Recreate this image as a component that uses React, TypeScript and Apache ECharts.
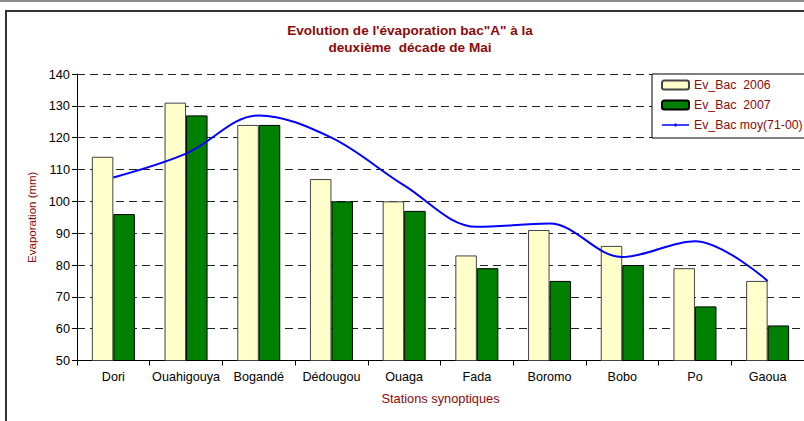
import React, { useEffect, useRef } from "react";
import * as echarts from "echarts";

const stations = ["Dori", "Ouahigouya", "Bogandé", "Dédougou", "Ouaga", "Fada", "Boromo", "Bobo", "Po", "Gaoua"];
const bac2006 = [114, 131, 124, 107, 100, 83, 91, 86, 79, 75];
const bac2007 = [96, 127, 124, 100, 97, 79, 75, 80, 67, 61];
const moy7100 = [107.5, 115, 127, 120, 105, 92, 93, 82.5, 87.5, 75];
const seriesNames = ["Ev_Bac  2006", "Ev_Bac  2007", "Ev_Bac moy(71-00)"];
const titleText = "Evolution de l'évaporation bac\"A\" à la\ndeuxième  décade de Mai";

const FONT = '"Liberation Sans", Arial, sans-serif';
const RED = "#8b0a0a";
const LINE_ICON = "path://M0,0L0,0M0,3.7L27,3.7L27,5.3L0,5.3ZM12.5,3L14.5,3L14.5,6L12.5,6ZM27,9L27,9";

export default function App() {
  const ref = useRef<HTMLDivElement>(null);
  useEffect(() => {
    if (!ref.current) return;
    const chart = echarts.init(ref.current, null, { renderer: "svg" });
    chart.setOption({
      animation: false,
      backgroundColor: "#ffffff",
      textStyle: { fontFamily: FONT },
      graphic: [
        { type: "rect", shape: { x: 0, y: 0, width: 804, height: 2 }, style: { fill: "#8a8a8a" }, silent: true },
        {
          type: "polyline",
          shape: { points: [[6, 421], [6, 11], [804, 11]] },
          style: { stroke: "#333", lineWidth: 2, fill: "none" },
          silent: true,
        },
        {
          type: "text",
          x: 410,
          y: 22,
          style: {
            text: titleText,
            fill: RED,
            font: `bold 13.6px ${FONT}`,
            align: "center",
            verticalAlign: "top",
            lineHeight: 17,
          },
        },
      ],
      legend: {
        left: 652,
        top: 74,
        orient: "vertical",
        itemWidth: 27,
        itemHeight: 9,
        itemGap: 8,
        padding: [5, 8, 7, 9],
        backgroundColor: "#ffffff",
        borderColor: "#000",
        borderWidth: 1,
        textStyle: { color: RED, fontSize: 12.3, fontFamily: FONT },
        data: [
          { name: seriesNames[0] },
          { name: seriesNames[1] },
          { name: seriesNames[2], icon: LINE_ICON, itemStyle: { color: "#0000ff", borderWidth: 0 } },
        ],
      },
      grid: { left: 77, top: 74, width: 735, height: 286.5, containLabel: false },
      xAxis: {
        type: "category",
        data: stations,
        name: "Stations synoptiques",
        nameLocation: "middle",
        nameGap: 31,
        nameTextStyle: { color: RED, fontSize: 12.8 },
        axisLine: { lineStyle: { color: "#000", width: 1 } },
        axisTick: { show: true, length: 5, lineStyle: { color: "#000" } },
        axisLabel: { color: "#000", fontSize: 12.6, margin: 10, interval: 0 },
      },
      yAxis: {
        type: "value",
        min: 50,
        max: 140,
        interval: 10,
        name: "Evaporation (mm)",
        nameLocation: "middle",
        nameGap: 38,
        nameTextStyle: { color: RED, fontSize: 11.5 },
        axisLine: { show: true, lineStyle: { color: "#000", width: 1 } },
        axisTick: { show: true, length: 5, lineStyle: { color: "#000" } },
        axisLabel: { color: "#000", fontSize: 12.8, margin: 7 },
        splitLine: { show: true, lineStyle: { color: "#222", width: 1, type: [8, 5] } },
      },
      series: [
        {
          name: seriesNames[0],
          type: "bar",
          data: bac2006,
          barWidth: 21.5,
          barGap: "0%",
          itemStyle: { color: "#ffffcc", borderColor: "#444", borderWidth: 1 },
        },
        {
          name: seriesNames[1],
          type: "bar",
          data: bac2007,
          barWidth: 21.5,
          barGap: "0%",
          itemStyle: { color: "#008000", borderColor: "#000", borderWidth: 1 },
        },
        {
          name: seriesNames[2],
          type: "line",
          data: moy7100,
          smooth: 0.35,
          symbol: "none",
          lineStyle: { color: "#0000ff", width: 2 },
          itemStyle: { color: "#0000ff" },
          z: 5,
        },
      ],
    });
    return () => chart.dispose();
  }, []);
  return (
    <div style={{ position: "fixed", left: 0, top: 0, width: 804, height: 421, overflow: "hidden" }}>
      <div ref={ref} style={{ width: 804, height: 421 }} />
    </div>
  );
}
